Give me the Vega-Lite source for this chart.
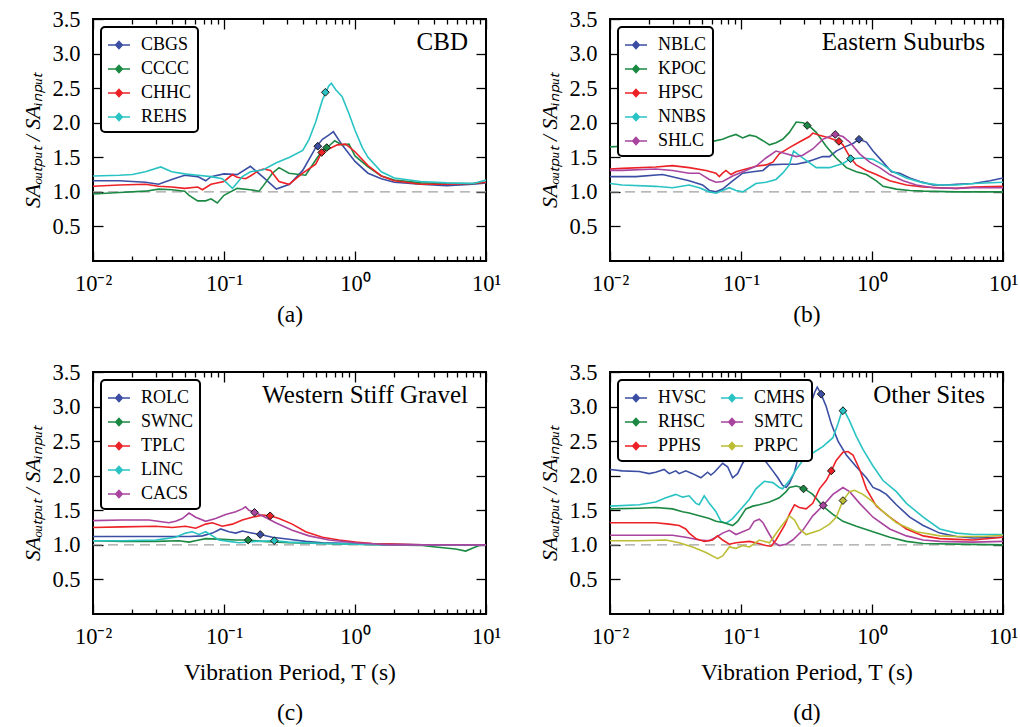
{
"$schema":"https://vega.github.io/schema/vega-lite/v6.json",
"background":"white",
"padding":{"left":21,"top":7,"right":5,"bottom":5},
"config":{
 "font":"Liberation Serif",
 "view":{"stroke":"black","strokeWidth":2},
 "axis":{"domain":false,"grid":false,"tickColor":"black","tickWidth":1.3,"labelFont":"Liberation Serif","labelFontSize":22.5,"labelColor":"black","titleFont":"Liberation Serif","titleFontSize":23.5,"titleFontWeight":"normal","titleColor":"black","labelFlush":false,"labelOverlap":false,"labelBound":false},
 "title":{"font":"Liberation Serif","fontSize":25,"fontWeight":"normal","color":"black","anchor":"end","frame":"group","offset":-47,"dx":-18},
 "legend":{"orient":"top-left","offset":8,"padding":6,"strokeColor":"black","strokeWidth":2,"fillColor":"white","cornerRadius":4,"labelFont":"Liberation Serif","labelFontSize":18,"labelColor":"black","labelOffset":10,"rowPadding":3,"columnPadding":10,"symbolType":"M-1,0H1M0,-0.32L0.3,0L0,0.32L-0.3,0Z","symbolSize":484,"symbolStrokeWidth":1.6,"title":null}
},
"datasets":{
"a":[
{"s":"CBGS","T":0.01,"v":1.16},{"s":"CBGS","T":0.0159,"v":1.16},{"s":"CBGS","T":0.0251,"v":1.14},{"s":"CBGS","T":0.0317,"v":1.11},{"s":"CBGS","T":0.0399,"v":1.18},{"s":"CBGS","T":0.0501,"v":1.24},{"s":"CBGS","T":0.063,"v":1.22},{"s":"CBGS","T":0.0725,"v":1.16},{"s":"CBGS","T":0.0796,"v":1.22},{"s":"CBGS","T":0.1,"v":1.26},{"s":"CBGS","T":0.126,"v":1.25},{"s":"CBGS","T":0.159,"v":1.37},{"s":"CBGS","T":0.2,"v":1.21},{"s":"CBGS","T":0.251,"v":1.04},{"s":"CBGS","T":0.317,"v":1.11},{"s":"CBGS","T":0.399,"v":1.31},{"s":"CBGS","T":0.501,"v":1.64},{"s":"CBGS","T":0.564,"v":1.76},{"s":"CBGS","T":0.63,"v":1.82},{"s":"CBGS","T":0.684,"v":1.87},{"s":"CBGS","T":0.796,"v":1.68},{"s":"CBGS","T":1.0,"v":1.44},{"s":"CBGS","T":1.257,"v":1.27},{"s":"CBGS","T":1.589,"v":1.19},{"s":"CBGS","T":1.995,"v":1.14},{"s":"CBGS","T":3.17,"v":1.11},{"s":"CBGS","T":5.01,"v":1.09},{"s":"CBGS","T":7.96,"v":1.11},{"s":"CBGS","T":10,"v":1.13},
{"s":"CCCC","T":0.01,"v":0.97},{"s":"CCCC","T":0.0159,"v":0.99},{"s":"CCCC","T":0.0251,"v":1.01},{"s":"CCCC","T":0.0317,"v":1.04},{"s":"CCCC","T":0.0399,"v":1.03},{"s":"CCCC","T":0.0501,"v":1.01},{"s":"CCCC","T":0.0541,"v":0.95},{"s":"CCCC","T":0.063,"v":0.87},{"s":"CCCC","T":0.0725,"v":0.87},{"s":"CCCC","T":0.0796,"v":0.9},{"s":"CCCC","T":0.0889,"v":0.84},{"s":"CCCC","T":0.1,"v":0.95},{"s":"CCCC","T":0.126,"v":1.05},{"s":"CCCC","T":0.159,"v":1.03},{"s":"CCCC","T":0.185,"v":1.01},{"s":"CCCC","T":0.2,"v":1.09},{"s":"CCCC","T":0.234,"v":1.27},{"s":"CCCC","T":0.263,"v":1.35},{"s":"CCCC","T":0.313,"v":1.27},{"s":"CCCC","T":0.374,"v":1.25},{"s":"CCCC","T":0.42,"v":1.24},{"s":"CCCC","T":0.501,"v":1.46},{"s":"CCCC","T":0.564,"v":1.6},{"s":"CCCC","T":0.63,"v":1.66},{"s":"CCCC","T":0.7,"v":1.74},{"s":"CCCC","T":0.796,"v":1.68},{"s":"CCCC","T":0.9,"v":1.69},{"s":"CCCC","T":1.0,"v":1.52},{"s":"CCCC","T":1.257,"v":1.36},{"s":"CCCC","T":1.589,"v":1.23},{"s":"CCCC","T":1.995,"v":1.17},{"s":"CCCC","T":3.17,"v":1.13},{"s":"CCCC","T":5.01,"v":1.12},{"s":"CCCC","T":7.96,"v":1.12},{"s":"CCCC","T":10,"v":1.14},
{"s":"CHHC","T":0.01,"v":1.08},{"s":"CHHC","T":0.0159,"v":1.1},{"s":"CHHC","T":0.0251,"v":1.11},{"s":"CHHC","T":0.0317,"v":1.08},{"s":"CHHC","T":0.0399,"v":1.07},{"s":"CHHC","T":0.0501,"v":1.05},{"s":"CHHC","T":0.063,"v":1.07},{"s":"CHHC","T":0.0684,"v":1.03},{"s":"CHHC","T":0.0796,"v":1.11},{"s":"CHHC","T":0.1,"v":1.15},{"s":"CHHC","T":0.116,"v":1.25},{"s":"CHHC","T":0.126,"v":1.21},{"s":"CHHC","T":0.146,"v":1.19},{"s":"CHHC","T":0.159,"v":1.23},{"s":"CHHC","T":0.185,"v":1.31},{"s":"CHHC","T":0.2,"v":1.33},{"s":"CHHC","T":0.227,"v":1.31},{"s":"CHHC","T":0.263,"v":1.15},{"s":"CHHC","T":0.313,"v":1.11},{"s":"CHHC","T":0.399,"v":1.27},{"s":"CHHC","T":0.501,"v":1.4},{"s":"CHHC","T":0.557,"v":1.57},{"s":"CHHC","T":0.63,"v":1.62},{"s":"CHHC","T":0.733,"v":1.68},{"s":"CHHC","T":0.849,"v":1.69},{"s":"CHHC","T":1.0,"v":1.58},{"s":"CHHC","T":1.257,"v":1.38},{"s":"CHHC","T":1.589,"v":1.23},{"s":"CHHC","T":1.995,"v":1.16},{"s":"CHHC","T":3.17,"v":1.11},{"s":"CHHC","T":5.01,"v":1.11},{"s":"CHHC","T":7.96,"v":1.12},{"s":"CHHC","T":10,"v":1.14},
{"s":"REHS","T":0.01,"v":1.23},{"s":"REHS","T":0.0159,"v":1.24},{"s":"REHS","T":0.02,"v":1.25},{"s":"REHS","T":0.0251,"v":1.29},{"s":"REHS","T":0.0329,"v":1.36},{"s":"REHS","T":0.0399,"v":1.29},{"s":"REHS","T":0.0501,"v":1.26},{"s":"REHS","T":0.063,"v":1.24},{"s":"REHS","T":0.0796,"v":1.22},{"s":"REHS","T":0.0971,"v":1.19},{"s":"REHS","T":0.116,"v":1.05},{"s":"REHS","T":0.138,"v":1.22},{"s":"REHS","T":0.159,"v":1.29},{"s":"REHS","T":0.2,"v":1.32},{"s":"REHS","T":0.251,"v":1.42},{"s":"REHS","T":0.317,"v":1.5},{"s":"REHS","T":0.399,"v":1.6},{"s":"REHS","T":0.446,"v":1.76},{"s":"REHS","T":0.501,"v":2.01},{"s":"REHS","T":0.564,"v":2.33},{"s":"REHS","T":0.63,"v":2.53},{"s":"REHS","T":0.66,"v":2.57},{"s":"REHS","T":0.711,"v":2.48},{"s":"REHS","T":0.796,"v":2.38},{"s":"REHS","T":0.9,"v":2.13},{"s":"REHS","T":1.0,"v":1.89},{"s":"REHS","T":1.138,"v":1.64},{"s":"REHS","T":1.257,"v":1.5},{"s":"REHS","T":1.589,"v":1.29},{"s":"REHS","T":1.995,"v":1.2},{"s":"REHS","T":3.17,"v":1.15},{"s":"REHS","T":5.01,"v":1.13},{"s":"REHS","T":7.96,"v":1.12},{"s":"REHS","T":10,"v":1.17}
],
"am":[{"s":"CBGS","T":0.52,"v":1.66},{"s":"CCCC","T":0.608,"v":1.64},{"s":"CHHC","T":0.557,"v":1.57},{"s":"REHS","T":0.594,"v":2.44}],
"b":[
{"s":"NBLC","T":0.01,"v":1.22},{"s":"NBLC","T":0.0158,"v":1.22},{"s":"NBLC","T":0.0252,"v":1.25},{"s":"NBLC","T":0.0402,"v":1.16},{"s":"NBLC","T":0.0509,"v":1.1},{"s":"NBLC","T":0.0573,"v":1.02},{"s":"NBLC","T":0.0644,"v":1.0},{"s":"NBLC","T":0.0724,"v":1.04},{"s":"NBLC","T":0.0863,"v":1.16},{"s":"NBLC","T":0.103,"v":1.27},{"s":"NBLC","T":0.123,"v":1.29},{"s":"NBLC","T":0.147,"v":1.31},{"s":"NBLC","T":0.165,"v":1.39},{"s":"NBLC","T":0.208,"v":1.4},{"s":"NBLC","T":0.264,"v":1.4},{"s":"NBLC","T":0.314,"v":1.43},{"s":"NBLC","T":0.353,"v":1.46},{"s":"NBLC","T":0.421,"v":1.51},{"s":"NBLC","T":0.474,"v":1.51},{"s":"NBLC","T":0.533,"v":1.59},{"s":"NBLC","T":0.6,"v":1.64},{"s":"NBLC","T":0.716,"v":1.7},{"s":"NBLC","T":0.796,"v":1.76},{"s":"NBLC","T":0.906,"v":1.72},{"s":"NBLC","T":1.018,"v":1.59},{"s":"NBLC","T":1.214,"v":1.43},{"s":"NBLC","T":1.406,"v":1.29},{"s":"NBLC","T":1.629,"v":1.27},{"s":"NBLC","T":1.941,"v":1.2},{"s":"NBLC","T":2.32,"v":1.15},{"s":"NBLC","T":2.93,"v":1.1},{"s":"NBLC","T":3.7,"v":1.1},{"s":"NBLC","T":4.42,"v":1.11},{"s":"NBLC","T":5.93,"v":1.12},{"s":"NBLC","T":7.96,"v":1.16},{"s":"NBLC","T":10,"v":1.2},
{"s":"KPOC","T":0.01,"v":1.65},{"s":"KPOC","T":0.0124,"v":1.66},{"s":"KPOC","T":0.0199,"v":1.68},{"s":"KPOC","T":0.0252,"v":1.7},{"s":"KPOC","T":0.0318,"v":1.73},{"s":"KPOC","T":0.0402,"v":1.72},{"s":"KPOC","T":0.0509,"v":1.75},{"s":"KPOC","T":0.0607,"v":1.73},{"s":"KPOC","T":0.0724,"v":1.76},{"s":"KPOC","T":0.0815,"v":1.8},{"s":"KPOC","T":0.0916,"v":1.83},{"s":"KPOC","T":0.103,"v":1.78},{"s":"KPOC","T":0.116,"v":1.82},{"s":"KPOC","T":0.13,"v":1.8},{"s":"KPOC","T":0.147,"v":1.74},{"s":"KPOC","T":0.165,"v":1.68},{"s":"KPOC","T":0.185,"v":1.71},{"s":"KPOC","T":0.208,"v":1.76},{"s":"KPOC","T":0.234,"v":1.86},{"s":"KPOC","T":0.264,"v":2.01},{"s":"KPOC","T":0.296,"v":2.0},{"s":"KPOC","T":0.324,"v":1.97},{"s":"KPOC","T":0.375,"v":1.86},{"s":"KPOC","T":0.447,"v":1.66},{"s":"KPOC","T":0.533,"v":1.49},{"s":"KPOC","T":0.637,"v":1.35},{"s":"KPOC","T":0.759,"v":1.29},{"s":"KPOC","T":0.906,"v":1.25},{"s":"KPOC","T":1.08,"v":1.16},{"s":"KPOC","T":1.214,"v":1.08},{"s":"KPOC","T":1.535,"v":1.04},{"s":"KPOC","T":1.941,"v":1.02},{"s":"KPOC","T":2.46,"v":1.01},{"s":"KPOC","T":4.42,"v":1.0},{"s":"KPOC","T":10,"v":1.0},
{"s":"HPSC","T":0.01,"v":1.33},{"s":"HPSC","T":0.0124,"v":1.34},{"s":"HPSC","T":0.0223,"v":1.36},{"s":"HPSC","T":0.03,"v":1.38},{"s":"HPSC","T":0.0402,"v":1.35},{"s":"HPSC","T":0.054,"v":1.31},{"s":"HPSC","T":0.0644,"v":1.27},{"s":"HPSC","T":0.0683,"v":1.22},{"s":"HPSC","T":0.0724,"v":1.27},{"s":"HPSC","T":0.0768,"v":1.31},{"s":"HPSC","T":0.0838,"v":1.25},{"s":"HPSC","T":0.0916,"v":1.29},{"s":"HPSC","T":0.109,"v":1.33},{"s":"HPSC","T":0.13,"v":1.37},{"s":"HPSC","T":0.155,"v":1.39},{"s":"HPSC","T":0.175,"v":1.43},{"s":"HPSC","T":0.196,"v":1.55},{"s":"HPSC","T":0.234,"v":1.64},{"s":"HPSC","T":0.279,"v":1.72},{"s":"HPSC","T":0.333,"v":1.8},{"s":"HPSC","T":0.353,"v":1.85},{"s":"HPSC","T":0.397,"v":1.82},{"s":"HPSC","T":0.474,"v":1.78},{"s":"HPSC","T":0.559,"v":1.73},{"s":"HPSC","T":0.6,"v":1.68},{"s":"HPSC","T":0.675,"v":1.51},{"s":"HPSC","T":0.759,"v":1.39},{"s":"HPSC","T":0.906,"v":1.31},{"s":"HPSC","T":1.08,"v":1.25},{"s":"HPSC","T":1.365,"v":1.16},{"s":"HPSC","T":1.831,"v":1.1},{"s":"HPSC","T":2.46,"v":1.07},{"s":"HPSC","T":3.29,"v":1.06},{"s":"HPSC","T":4.42,"v":1.05},{"s":"HPSC","T":5.93,"v":1.07},{"s":"HPSC","T":10,"v":1.08},
{"s":"NNBS","T":0.01,"v":1.12},{"s":"NNBS","T":0.0124,"v":1.1},{"s":"NNBS","T":0.0223,"v":1.08},{"s":"NNBS","T":0.03,"v":1.06},{"s":"NNBS","T":0.0402,"v":1.1},{"s":"NNBS","T":0.048,"v":1.06},{"s":"NNBS","T":0.0573,"v":1.0},{"s":"NNBS","T":0.0644,"v":0.98},{"s":"NNBS","T":0.0724,"v":1.02},{"s":"NNBS","T":0.0815,"v":1.06},{"s":"NNBS","T":0.0916,"v":1.02},{"s":"NNBS","T":0.103,"v":1.0},{"s":"NNBS","T":0.116,"v":1.06},{"s":"NNBS","T":0.13,"v":1.12},{"s":"NNBS","T":0.155,"v":1.14},{"s":"NNBS","T":0.185,"v":1.18},{"s":"NNBS","T":0.208,"v":1.27},{"s":"NNBS","T":0.234,"v":1.39},{"s":"NNBS","T":0.252,"v":1.59},{"s":"NNBS","T":0.296,"v":1.49},{"s":"NNBS","T":0.375,"v":1.35},{"s":"NNBS","T":0.474,"v":1.35},{"s":"NNBS","T":0.6,"v":1.41},{"s":"NNBS","T":0.687,"v":1.48},{"s":"NNBS","T":0.853,"v":1.49},{"s":"NNBS","T":1.018,"v":1.47},{"s":"NNBS","T":1.214,"v":1.39},{"s":"NNBS","T":1.448,"v":1.29},{"s":"NNBS","T":1.831,"v":1.2},{"s":"NNBS","T":2.46,"v":1.13},{"s":"NNBS","T":3.29,"v":1.1},{"s":"NNBS","T":4.42,"v":1.1},{"s":"NNBS","T":5.93,"v":1.12},{"s":"NNBS","T":10,"v":1.14},
{"s":"SHLC","T":0.01,"v":1.31},{"s":"SHLC","T":0.0124,"v":1.31},{"s":"SHLC","T":0.0223,"v":1.33},{"s":"SHLC","T":0.03,"v":1.31},{"s":"SHLC","T":0.0402,"v":1.27},{"s":"SHLC","T":0.048,"v":1.27},{"s":"SHLC","T":0.0573,"v":1.18},{"s":"SHLC","T":0.0644,"v":1.14},{"s":"SHLC","T":0.0724,"v":1.15},{"s":"SHLC","T":0.0863,"v":1.23},{"s":"SHLC","T":0.109,"v":1.31},{"s":"SHLC","T":0.13,"v":1.37},{"s":"SHLC","T":0.155,"v":1.49},{"s":"SHLC","T":0.185,"v":1.59},{"s":"SHLC","T":0.221,"v":1.55},{"s":"SHLC","T":0.264,"v":1.51},{"s":"SHLC","T":0.296,"v":1.53},{"s":"SHLC","T":0.353,"v":1.62},{"s":"SHLC","T":0.421,"v":1.76},{"s":"SHLC","T":0.474,"v":1.8},{"s":"SHLC","T":0.524,"v":1.83},{"s":"SHLC","T":0.6,"v":1.8},{"s":"SHLC","T":0.675,"v":1.72},{"s":"SHLC","T":0.805,"v":1.55},{"s":"SHLC","T":0.96,"v":1.43},{"s":"SHLC","T":1.145,"v":1.35},{"s":"SHLC","T":1.365,"v":1.25},{"s":"SHLC","T":1.727,"v":1.16},{"s":"SHLC","T":2.18,"v":1.1},{"s":"SHLC","T":2.93,"v":1.06},{"s":"SHLC","T":4.42,"v":1.05},{"s":"SHLC","T":5.93,"v":1.06},{"s":"SHLC","T":10,"v":1.06}
],
"bm":[{"s":"NBLC","T":0.796,"v":1.76},{"s":"KPOC","T":0.32,"v":1.96},{"s":"HPSC","T":0.559,"v":1.73},{"s":"NNBS","T":0.687,"v":1.48},{"s":"SHLC","T":0.524,"v":1.83}],
"c":[
{"s":"ROLC","T":0.01,"v":1.12},{"s":"ROLC","T":0.0301,"v":1.12},{"s":"ROLC","T":0.0403,"v":1.12},{"s":"ROLC","T":0.0541,"v":1.12},{"s":"ROLC","T":0.0684,"v":1.13},{"s":"ROLC","T":0.0815,"v":1.17},{"s":"ROLC","T":0.0943,"v":1.23},{"s":"ROLC","T":0.109,"v":1.19},{"s":"ROLC","T":0.123,"v":1.17},{"s":"ROLC","T":0.138,"v":1.2},{"s":"ROLC","T":0.155,"v":1.18},{"s":"ROLC","T":0.175,"v":1.16},{"s":"ROLC","T":0.189,"v":1.15},{"s":"ROLC","T":0.234,"v":1.11},{"s":"ROLC","T":0.313,"v":1.08},{"s":"ROLC","T":0.42,"v":1.05},{"s":"ROLC","T":0.564,"v":1.03},{"s":"ROLC","T":1.01,"v":1.02},{"s":"ROLC","T":1.82,"v":1.01},{"s":"ROLC","T":3.27,"v":1.0},{"s":"ROLC","T":10,"v":1.0},
{"s":"SWNC","T":0.01,"v":1.06},{"s":"SWNC","T":0.0167,"v":1.05},{"s":"SWNC","T":0.0301,"v":1.05},{"s":"SWNC","T":0.0453,"v":1.06},{"s":"SWNC","T":0.0541,"v":1.04},{"s":"SWNC","T":0.0644,"v":1.07},{"s":"SWNC","T":0.0725,"v":1.09},{"s":"SWNC","T":0.0971,"v":1.08},{"s":"SWNC","T":0.123,"v":1.07},{"s":"SWNC","T":0.153,"v":1.07},{"s":"SWNC","T":0.196,"v":1.05},{"s":"SWNC","T":0.313,"v":1.03},{"s":"SWNC","T":0.564,"v":1.02},{"s":"SWNC","T":1.01,"v":1.01},{"s":"SWNC","T":1.82,"v":1.0},{"s":"SWNC","T":3.27,"v":0.99},{"s":"SWNC","T":4.13,"v":0.97},{"s":"SWNC","T":5.86,"v":0.94},{"s":"SWNC","T":7.0,"v":0.91},{"s":"SWNC","T":7.87,"v":0.95},{"s":"SWNC","T":8.85,"v":0.99},{"s":"SWNC","T":10,"v":1.0},
{"s":"TPLC","T":0.01,"v":1.25},{"s":"TPLC","T":0.0167,"v":1.26},{"s":"TPLC","T":0.0301,"v":1.27},{"s":"TPLC","T":0.0403,"v":1.25},{"s":"TPLC","T":0.0509,"v":1.27},{"s":"TPLC","T":0.0608,"v":1.24},{"s":"TPLC","T":0.0725,"v":1.3},{"s":"TPLC","T":0.0815,"v":1.32},{"s":"TPLC","T":0.0971,"v":1.27},{"s":"TPLC","T":0.116,"v":1.3},{"s":"TPLC","T":0.138,"v":1.36},{"s":"TPLC","T":0.164,"v":1.4},{"s":"TPLC","T":0.196,"v":1.43},{"s":"TPLC","T":0.225,"v":1.42},{"s":"TPLC","T":0.263,"v":1.38},{"s":"TPLC","T":0.332,"v":1.3},{"s":"TPLC","T":0.42,"v":1.19},{"s":"TPLC","T":0.564,"v":1.11},{"s":"TPLC","T":0.755,"v":1.07},{"s":"TPLC","T":1.01,"v":1.04},{"s":"TPLC","T":1.36,"v":1.02},{"s":"TPLC","T":1.82,"v":1.01},{"s":"TPLC","T":3.27,"v":1.0},{"s":"TPLC","T":10,"v":1.0},
{"s":"LINC","T":0.01,"v":1.06},{"s":"LINC","T":0.0167,"v":1.06},{"s":"LINC","T":0.0301,"v":1.07},{"s":"LINC","T":0.0359,"v":1.09},{"s":"LINC","T":0.0427,"v":1.11},{"s":"LINC","T":0.0509,"v":1.17},{"s":"LINC","T":0.0573,"v":1.19},{"s":"LINC","T":0.0644,"v":1.15},{"s":"LINC","T":0.0725,"v":1.19},{"s":"LINC","T":0.0815,"v":1.13},{"s":"LINC","T":0.0916,"v":1.07},{"s":"LINC","T":0.109,"v":1.05},{"s":"LINC","T":0.13,"v":1.03},{"s":"LINC","T":0.175,"v":1.05},{"s":"LINC","T":0.242,"v":1.06},{"s":"LINC","T":0.313,"v":1.04},{"s":"LINC","T":0.564,"v":1.02},{"s":"LINC","T":1.01,"v":1.01},{"s":"LINC","T":1.82,"v":1.0},{"s":"LINC","T":10,"v":1.0},
{"s":"CACS","T":0.01,"v":1.35},{"s":"CACS","T":0.0167,"v":1.36},{"s":"CACS","T":0.0267,"v":1.36},{"s":"CACS","T":0.038,"v":1.32},{"s":"CACS","T":0.0427,"v":1.34},{"s":"CACS","T":0.0481,"v":1.38},{"s":"CACS","T":0.0541,"v":1.46},{"s":"CACS","T":0.0608,"v":1.4},{"s":"CACS","T":0.0725,"v":1.34},{"s":"CACS","T":0.0863,"v":1.38},{"s":"CACS","T":0.103,"v":1.44},{"s":"CACS","T":0.123,"v":1.48},{"s":"CACS","T":0.138,"v":1.52},{"s":"CACS","T":0.146,"v":1.55},{"s":"CACS","T":0.155,"v":1.5},{"s":"CACS","T":0.171,"v":1.47},{"s":"CACS","T":0.196,"v":1.42},{"s":"CACS","T":0.248,"v":1.32},{"s":"CACS","T":0.332,"v":1.21},{"s":"CACS","T":0.446,"v":1.13},{"s":"CACS","T":0.634,"v":1.07},{"s":"CACS","T":1.01,"v":1.03},{"s":"CACS","T":1.82,"v":1.0},{"s":"CACS","T":10,"v":1.0}
],
"cm":[{"s":"ROLC","T":0.189,"v":1.15},{"s":"SWNC","T":0.153,"v":1.07},{"s":"TPLC","T":0.225,"v":1.42},{"s":"LINC","T":0.242,"v":1.06},{"s":"CACS","T":0.171,"v":1.47}],
"d":[
{"s":"HVSC","T":0.01,"v":2.09},{"s":"HVSC","T":0.0124,"v":2.07},{"s":"HVSC","T":0.0167,"v":2.06},{"s":"HVSC","T":0.0199,"v":2.03},{"s":"HVSC","T":0.0223,"v":2.05},{"s":"HVSC","T":0.0259,"v":2.09},{"s":"HVSC","T":0.0283,"v":2.03},{"s":"HVSC","T":0.0318,"v":2.07},{"s":"HVSC","T":0.0337,"v":2.03},{"s":"HVSC","T":0.0379,"v":2.07},{"s":"HVSC","T":0.0427,"v":2.03},{"s":"HVSC","T":0.0494,"v":1.97},{"s":"HVSC","T":0.0556,"v":2.05},{"s":"HVSC","T":0.0589,"v":2.01},{"s":"HVSC","T":0.0625,"v":2.05},{"s":"HVSC","T":0.0724,"v":2.18},{"s":"HVSC","T":0.079,"v":2.13},{"s":"HVSC","T":0.0863,"v":1.97},{"s":"HVSC","T":0.0942,"v":2.03},{"s":"HVSC","T":0.103,"v":2.18},{"s":"HVSC","T":0.112,"v":2.28},{"s":"HVSC","T":0.123,"v":2.31},{"s":"HVSC","T":0.138,"v":2.28},{"s":"HVSC","T":0.155,"v":2.2},{"s":"HVSC","T":0.175,"v":2.07},{"s":"HVSC","T":0.191,"v":1.97},{"s":"HVSC","T":0.208,"v":1.86},{"s":"HVSC","T":0.221,"v":1.83},{"s":"HVSC","T":0.234,"v":1.89},{"s":"HVSC","T":0.256,"v":2.05},{"s":"HVSC","T":0.279,"v":2.34},{"s":"HVSC","T":0.305,"v":2.67},{"s":"HVSC","T":0.333,"v":2.98},{"s":"HVSC","T":0.364,"v":3.2},{"s":"HVSC","T":0.382,"v":3.28},{"s":"HVSC","T":0.409,"v":3.18},{"s":"HVSC","T":0.447,"v":3.0},{"s":"HVSC","T":0.489,"v":2.75},{"s":"HVSC","T":0.55,"v":2.5},{"s":"HVSC","T":0.637,"v":2.3},{"s":"HVSC","T":0.759,"v":2.13},{"s":"HVSC","T":0.906,"v":1.97},{"s":"HVSC","T":1.018,"v":1.83},{"s":"HVSC","T":1.145,"v":1.79},{"s":"HVSC","T":1.288,"v":1.73},{"s":"HVSC","T":1.535,"v":1.58},{"s":"HVSC","T":1.941,"v":1.4},{"s":"HVSC","T":2.46,"v":1.28},{"s":"HVSC","T":3.29,"v":1.17},{"s":"HVSC","T":4.42,"v":1.12},{"s":"HVSC","T":5.93,"v":1.1},{"s":"HVSC","T":10,"v":1.11},
{"s":"CMHS","T":0.01,"v":1.56},{"s":"CMHS","T":0.0167,"v":1.58},{"s":"CMHS","T":0.0223,"v":1.62},{"s":"CMHS","T":0.0267,"v":1.68},{"s":"CMHS","T":0.0318,"v":1.73},{"s":"CMHS","T":0.0358,"v":1.69},{"s":"CMHS","T":0.0402,"v":1.71},{"s":"CMHS","T":0.0453,"v":1.6},{"s":"CMHS","T":0.048,"v":1.58},{"s":"CMHS","T":0.0524,"v":1.71},{"s":"CMHS","T":0.0573,"v":1.6},{"s":"CMHS","T":0.0644,"v":1.48},{"s":"CMHS","T":0.0703,"v":1.34},{"s":"CMHS","T":0.0768,"v":1.31},{"s":"CMHS","T":0.0863,"v":1.38},{"s":"CMHS","T":0.1,"v":1.52},{"s":"CMHS","T":0.116,"v":1.66},{"s":"CMHS","T":0.13,"v":1.81},{"s":"CMHS","T":0.151,"v":1.92},{"s":"CMHS","T":0.175,"v":1.9},{"s":"CMHS","T":0.196,"v":1.83},{"s":"CMHS","T":0.208,"v":1.81},{"s":"CMHS","T":0.234,"v":1.93},{"s":"CMHS","T":0.264,"v":2.09},{"s":"CMHS","T":0.296,"v":2.22},{"s":"CMHS","T":0.333,"v":2.3},{"s":"CMHS","T":0.421,"v":2.42},{"s":"CMHS","T":0.503,"v":2.55},{"s":"CMHS","T":0.55,"v":2.75},{"s":"CMHS","T":0.6,"v":2.98},{"s":"CMHS","T":0.675,"v":2.79},{"s":"CMHS","T":0.759,"v":2.57},{"s":"CMHS","T":0.853,"v":2.38},{"s":"CMHS","T":1.018,"v":2.14},{"s":"CMHS","T":1.214,"v":1.93},{"s":"CMHS","T":1.535,"v":1.77},{"s":"CMHS","T":1.831,"v":1.6},{"s":"CMHS","T":2.46,"v":1.4},{"s":"CMHS","T":3.29,"v":1.23},{"s":"CMHS","T":4.42,"v":1.17},{"s":"CMHS","T":5.93,"v":1.15},{"s":"CMHS","T":10,"v":1.15},
{"s":"RHSC","T":0.01,"v":1.52},{"s":"RHSC","T":0.0167,"v":1.53},{"s":"RHSC","T":0.0223,"v":1.54},{"s":"RHSC","T":0.03,"v":1.52},{"s":"RHSC","T":0.0358,"v":1.48},{"s":"RHSC","T":0.0402,"v":1.46},{"s":"RHSC","T":0.048,"v":1.42},{"s":"RHSC","T":0.0573,"v":1.38},{"s":"RHSC","T":0.0644,"v":1.34},{"s":"RHSC","T":0.0745,"v":1.32},{"s":"RHSC","T":0.0863,"v":1.28},{"s":"RHSC","T":0.0942,"v":1.34},{"s":"RHSC","T":0.109,"v":1.52},{"s":"RHSC","T":0.123,"v":1.56},{"s":"RHSC","T":0.138,"v":1.58},{"s":"RHSC","T":0.165,"v":1.62},{"s":"RHSC","T":0.196,"v":1.68},{"s":"RHSC","T":0.221,"v":1.77},{"s":"RHSC","T":0.234,"v":1.83},{"s":"RHSC","T":0.264,"v":1.85},{"s":"RHSC","T":0.3,"v":1.82},{"s":"RHSC","T":0.353,"v":1.73},{"s":"RHSC","T":0.421,"v":1.56},{"s":"RHSC","T":0.503,"v":1.44},{"s":"RHSC","T":0.6,"v":1.34},{"s":"RHSC","T":0.759,"v":1.27},{"s":"RHSC","T":1.018,"v":1.19},{"s":"RHSC","T":1.365,"v":1.11},{"s":"RHSC","T":1.831,"v":1.05},{"s":"RHSC","T":2.46,"v":1.02},{"s":"RHSC","T":4.42,"v":1.01},{"s":"RHSC","T":10,"v":1.0},
{"s":"SMTC","T":0.01,"v":1.14},{"s":"SMTC","T":0.0167,"v":1.14},{"s":"SMTC","T":0.03,"v":1.14},{"s":"SMTC","T":0.0379,"v":1.11},{"s":"SMTC","T":0.048,"v":1.07},{"s":"SMTC","T":0.0573,"v":1.06},{"s":"SMTC","T":0.0644,"v":1.11},{"s":"SMTC","T":0.0724,"v":1.17},{"s":"SMTC","T":0.0815,"v":1.21},{"s":"SMTC","T":0.0916,"v":1.15},{"s":"SMTC","T":0.116,"v":1.23},{"s":"SMTC","T":0.126,"v":1.34},{"s":"SMTC","T":0.138,"v":1.37},{"s":"SMTC","T":0.147,"v":1.32},{"s":"SMTC","T":0.165,"v":1.15},{"s":"SMTC","T":0.18,"v":1.03},{"s":"SMTC","T":0.196,"v":0.99},{"s":"SMTC","T":0.221,"v":1.01},{"s":"SMTC","T":0.248,"v":1.07},{"s":"SMTC","T":0.296,"v":1.21},{"s":"SMTC","T":0.353,"v":1.42},{"s":"SMTC","T":0.424,"v":1.57},{"s":"SMTC","T":0.503,"v":1.73},{"s":"SMTC","T":0.6,"v":1.83},{"s":"SMTC","T":0.675,"v":1.77},{"s":"SMTC","T":0.805,"v":1.6},{"s":"SMTC","T":1.018,"v":1.4},{"s":"SMTC","T":1.365,"v":1.23},{"s":"SMTC","T":1.831,"v":1.13},{"s":"SMTC","T":2.46,"v":1.07},{"s":"SMTC","T":3.29,"v":1.05},{"s":"SMTC","T":5.93,"v":1.04},{"s":"SMTC","T":10,"v":1.05},
{"s":"PPHS","T":0.01,"v":1.32},{"s":"PPHS","T":0.0167,"v":1.32},{"s":"PPHS","T":0.0223,"v":1.32},{"s":"PPHS","T":0.0283,"v":1.3},{"s":"PPHS","T":0.0337,"v":1.28},{"s":"PPHS","T":0.0379,"v":1.23},{"s":"PPHS","T":0.0402,"v":1.17},{"s":"PPHS","T":0.0453,"v":1.09},{"s":"PPHS","T":0.0524,"v":1.05},{"s":"PPHS","T":0.0607,"v":1.07},{"s":"PPHS","T":0.0662,"v":1.13},{"s":"PPHS","T":0.0724,"v":1.07},{"s":"PPHS","T":0.0815,"v":1.01},{"s":"PPHS","T":0.0916,"v":1.03},{"s":"PPHS","T":0.116,"v":1.05},{"s":"PPHS","T":0.13,"v":1.03},{"s":"PPHS","T":0.155,"v":0.99},{"s":"PPHS","T":0.17,"v":0.98},{"s":"PPHS","T":0.185,"v":1.07},{"s":"PPHS","T":0.215,"v":1.28},{"s":"PPHS","T":0.234,"v":1.44},{"s":"PPHS","T":0.256,"v":1.58},{"s":"PPHS","T":0.279,"v":1.54},{"s":"PPHS","T":0.314,"v":1.52},{"s":"PPHS","T":0.353,"v":1.6},{"s":"PPHS","T":0.397,"v":1.81},{"s":"PPHS","T":0.447,"v":1.93},{"s":"PPHS","T":0.489,"v":2.07},{"s":"PPHS","T":0.533,"v":2.22},{"s":"PPHS","T":0.6,"v":2.34},{"s":"PPHS","T":0.655,"v":2.35},{"s":"PPHS","T":0.716,"v":2.3},{"s":"PPHS","T":0.805,"v":2.09},{"s":"PPHS","T":0.906,"v":1.81},{"s":"PPHS","T":1.08,"v":1.56},{"s":"PPHS","T":1.365,"v":1.4},{"s":"PPHS","T":1.831,"v":1.23},{"s":"PPHS","T":2.46,"v":1.13},{"s":"PPHS","T":3.29,"v":1.09},{"s":"PPHS","T":4.42,"v":1.08},{"s":"PPHS","T":5.93,"v":1.07},{"s":"PPHS","T":10,"v":1.11},
{"s":"PRPC","T":0.01,"v":1.06},{"s":"PRPC","T":0.0167,"v":1.06},{"s":"PRPC","T":0.0267,"v":1.07},{"s":"PRPC","T":0.0337,"v":1.03},{"s":"PRPC","T":0.0427,"v":0.97},{"s":"PRPC","T":0.054,"v":0.89},{"s":"PRPC","T":0.0662,"v":0.8},{"s":"PRPC","T":0.0724,"v":0.84},{"s":"PRPC","T":0.0815,"v":0.97},{"s":"PRPC","T":0.0916,"v":0.95},{"s":"PRPC","T":0.103,"v":0.99},{"s":"PRPC","T":0.116,"v":0.97},{"s":"PRPC","T":0.138,"v":1.07},{"s":"PRPC","T":0.165,"v":1.03},{"s":"PRPC","T":0.196,"v":1.23},{"s":"PRPC","T":0.234,"v":1.42},{"s":"PRPC","T":0.256,"v":1.36},{"s":"PRPC","T":0.279,"v":1.23},{"s":"PRPC","T":0.314,"v":1.15},{"s":"PRPC","T":0.397,"v":1.21},{"s":"PRPC","T":0.474,"v":1.3},{"s":"PRPC","T":0.533,"v":1.4},{"s":"PRPC","T":0.6,"v":1.64},{"s":"PRPC","T":0.675,"v":1.77},{"s":"PRPC","T":0.737,"v":1.79},{"s":"PRPC","T":0.853,"v":1.73},{"s":"PRPC","T":0.989,"v":1.64},{"s":"PRPC","T":1.214,"v":1.48},{"s":"PRPC","T":1.535,"v":1.32},{"s":"PRPC","T":2.18,"v":1.19},{"s":"PRPC","T":3.29,"v":1.13},{"s":"PRPC","T":4.42,"v":1.12},{"s":"PRPC","T":7.06,"v":1.12},{"s":"PRPC","T":10,"v":1.14}
],
"dm":[{"s":"HVSC","T":0.409,"v":3.18},{"s":"CMHS","T":0.6,"v":2.94},{"s":"RHSC","T":0.3,"v":1.81},{"s":"SMTC","T":0.424,"v":1.57},{"s":"PPHS","T":0.489,"v":2.07},{"s":"PRPC","T":0.6,"v":1.64}]
},
"concat":[
{"name":"pa","width":393,"height":242,"title":{"text":"CBD"},
 "layer":[
  {"data":{"values":[{}]},"mark":{"type":"rule","strokeDash":[10,6],"color":"#a0a0a0","strokeWidth":1.4},"encoding":{"y":{"datum":1,"type":"quantitative","axis":null}}},
  {"data":{"name":"a"},"mark":{"type":"line","strokeWidth":1.6},"encoding":{
   "x":{"field":"T","type":"quantitative","scale":{"type":"log","domain":[0.01,10],"nice":false},"axis":{"orient":"bottom","values":[0.01,0.02,0.03,0.04,0.05,0.06,0.07,0.08,0.09,0.1,0.2,0.3,0.4,0.5,0.6,0.7,0.8,0.9,1,2,3,4,5,6,7,8,9,10],"labelExpr":"datum.value==0.01?'10⁻²':datum.value==0.1?'10⁻¹':datum.value==1?'10⁰':datum.value==10?'10¹':''","tickSize":{"condition":{"test":"datum.value==0.01||datum.value==0.1||datum.value==1||datum.value==10","value":-10},"value":-5},"labelPadding":21,"title":"(a)","titlePadding":3}},
   "y":{"field":"v","type":"quantitative","scale":{"domain":[0.5,3.5],"nice":false},"axis":{"orient":"left","values":[0.5,1,1.5,2,2.5,3,3.5],"format":".1f","tickSize":-10,"labelPadding":23,"title":"SAₒᵤₜₚᵤₜ / SAᵢₙₚᵤₜ","titleFontStyle":"italic","titleFontSize":21.5,"titlePadding":7}},
   "color":{"field":"s","type":"nominal","scale":{"domain":["CBGS","CCCC","CHHC","REHS"],"range":["#3b4ea3","#1b8943","#ec2227","#2ac3c3"]},"legend":{"encode":{"symbols":{"update":{"fill":{"scale":"pa_color","field":"value"}}}}}}}},
  {"data":{"name":"am"},"mark":{"type":"point","shape":"diamond","filled":true,"size":60,"stroke":"#1a1a1a","strokeWidth":1,"opacity":1},"encoding":{
   "x":{"field":"T","type":"quantitative","axis":{"orient":"top","values":[0.01,0.02,0.03,0.04,0.05,0.06,0.07,0.08,0.09,0.1,0.2,0.3,0.4,0.5,0.6,0.7,0.8,0.9,1,2,3,4,5,6,7,8,9,10],"labels":false,"title":null,"tickSize":{"condition":{"test":"datum.value==0.01||datum.value==0.1||datum.value==1||datum.value==10","value":-10},"value":-5}}},
   "y":{"field":"v","type":"quantitative","axis":{"orient":"right","values":[0.5,1,1.5,2,2.5,3,3.5],"labels":false,"title":null,"tickSize":-10}},
   "color":{"field":"s","type":"nominal","legend":null}}}
 ],
 "resolve":{"axis":{"x":"independent","y":"independent"}}},
{"name":"pb","width":393,"height":242,"title":{"text":"Eastern Suburbs"},
 "layer":[
  {"data":{"values":[{}]},"mark":{"type":"rule","strokeDash":[10,6],"color":"#a0a0a0","strokeWidth":1.4},"encoding":{"y":{"datum":1,"type":"quantitative","axis":null}}},
  {"data":{"name":"b"},"mark":{"type":"line","strokeWidth":1.6},"encoding":{
   "x":{"field":"T","type":"quantitative","scale":{"type":"log","domain":[0.01,10],"nice":false},"axis":{"orient":"bottom","values":[0.01,0.02,0.03,0.04,0.05,0.06,0.07,0.08,0.09,0.1,0.2,0.3,0.4,0.5,0.6,0.7,0.8,0.9,1,2,3,4,5,6,7,8,9,10],"labelExpr":"datum.value==0.01?'10⁻²':datum.value==0.1?'10⁻¹':datum.value==1?'10⁰':datum.value==10?'10¹':''","tickSize":{"condition":{"test":"datum.value==0.01||datum.value==0.1||datum.value==1||datum.value==10","value":-10},"value":-5},"labelPadding":21,"title":"(b)","titlePadding":3}},
   "y":{"field":"v","type":"quantitative","scale":{"domain":[0.5,3.5],"nice":false},"axis":{"orient":"left","values":[0.5,1,1.5,2,2.5,3,3.5],"format":".1f","tickSize":-10,"labelPadding":23,"title":"SAₒᵤₜₚᵤₜ / SAᵢₙₚᵤₜ","titleFontStyle":"italic","titleFontSize":21.5,"titlePadding":7}},
   "color":{"field":"s","type":"nominal","scale":{"domain":["NBLC","KPOC","HPSC","NNBS","SHLC"],"range":["#3b4ea3","#1b8943","#ec2227","#2ac3c3","#a9449f"]},"legend":{"encode":{"symbols":{"update":{"fill":{"scale":"pb_color","field":"value"}}}}}}}},
  {"data":{"name":"bm"},"mark":{"type":"point","shape":"diamond","filled":true,"size":60,"stroke":"#1a1a1a","strokeWidth":1,"opacity":1},"encoding":{
   "x":{"field":"T","type":"quantitative","axis":{"orient":"top","values":[0.01,0.02,0.03,0.04,0.05,0.06,0.07,0.08,0.09,0.1,0.2,0.3,0.4,0.5,0.6,0.7,0.8,0.9,1,2,3,4,5,6,7,8,9,10],"labels":false,"title":null,"tickSize":{"condition":{"test":"datum.value==0.01||datum.value==0.1||datum.value==1||datum.value==10","value":-10},"value":-5}}},
   "y":{"field":"v","type":"quantitative","axis":{"orient":"right","values":[0.5,1,1.5,2,2.5,3,3.5],"labels":false,"title":null,"tickSize":-10}},
   "color":{"field":"s","type":"nominal","legend":null}}}
 ],
 "resolve":{"axis":{"x":"independent","y":"independent"}}},
{"name":"pc","width":393,"height":242,"title":{"text":"Western Stiff Gravel"},
 "layer":[
  {"data":{"values":[{}]},"mark":{"type":"rule","strokeDash":[10,6],"color":"#a0a0a0","strokeWidth":1.4},"encoding":{"y":{"datum":1,"type":"quantitative","axis":null}}},
  {"data":{"name":"c"},"mark":{"type":"line","strokeWidth":1.6},"encoding":{
   "x":{"field":"T","type":"quantitative","scale":{"type":"log","domain":[0.01,10],"nice":false},"axis":{"orient":"bottom","values":[0.01,0.02,0.03,0.04,0.05,0.06,0.07,0.08,0.09,0.1,0.2,0.3,0.4,0.5,0.6,0.7,0.8,0.9,1,2,3,4,5,6,7,8,9,10],"labelExpr":"datum.value==0.01?'10⁻²':datum.value==0.1?'10⁻¹':datum.value==1?'10⁰':datum.value==10?'10¹':''","tickSize":{"condition":{"test":"datum.value==0.01||datum.value==0.1||datum.value==1||datum.value==10","value":-10},"value":-5},"labelPadding":21,"title":["Vibration Period, T (s)","(c)"],"titleLineHeight":40,"titlePadding":8}},
   "y":{"field":"v","type":"quantitative","scale":{"domain":[0.5,3.5],"nice":false},"axis":{"orient":"left","values":[0.5,1,1.5,2,2.5,3,3.5],"format":".1f","tickSize":-10,"labelPadding":23,"title":"SAₒᵤₜₚᵤₜ / SAᵢₙₚᵤₜ","titleFontStyle":"italic","titleFontSize":21.5,"titlePadding":7}},
   "color":{"field":"s","type":"nominal","scale":{"domain":["ROLC","SWNC","TPLC","LINC","CACS"],"range":["#3b4ea3","#1b8943","#ec2227","#2ac3c3","#a9449f"]},"legend":{"encode":{"symbols":{"update":{"fill":{"scale":"pc_color","field":"value"}}}}}}}},
  {"data":{"name":"cm"},"mark":{"type":"point","shape":"diamond","filled":true,"size":60,"stroke":"#1a1a1a","strokeWidth":1,"opacity":1},"encoding":{
   "x":{"field":"T","type":"quantitative","axis":{"orient":"top","values":[0.01,0.02,0.03,0.04,0.05,0.06,0.07,0.08,0.09,0.1,0.2,0.3,0.4,0.5,0.6,0.7,0.8,0.9,1,2,3,4,5,6,7,8,9,10],"labels":false,"title":null,"tickSize":{"condition":{"test":"datum.value==0.01||datum.value==0.1||datum.value==1||datum.value==10","value":-10},"value":-5}}},
   "y":{"field":"v","type":"quantitative","axis":{"orient":"right","values":[0.5,1,1.5,2,2.5,3,3.5],"labels":false,"title":null,"tickSize":-10}},
   "color":{"field":"s","type":"nominal","legend":null}}}
 ],
 "resolve":{"axis":{"x":"independent","y":"independent"}}},
{"name":"pd","width":393,"height":242,"title":{"text":"Other Sites"},
 "layer":[
  {"data":{"values":[{}]},"mark":{"type":"rule","strokeDash":[10,6],"color":"#a0a0a0","strokeWidth":1.4},"encoding":{"y":{"datum":1,"type":"quantitative","axis":null}}},
  {"data":{"name":"d"},"mark":{"type":"line","strokeWidth":1.6},"encoding":{
   "x":{"field":"T","type":"quantitative","scale":{"type":"log","domain":[0.01,10],"nice":false},"axis":{"orient":"bottom","values":[0.01,0.02,0.03,0.04,0.05,0.06,0.07,0.08,0.09,0.1,0.2,0.3,0.4,0.5,0.6,0.7,0.8,0.9,1,2,3,4,5,6,7,8,9,10],"labelExpr":"datum.value==0.01?'10⁻²':datum.value==0.1?'10⁻¹':datum.value==1?'10⁰':datum.value==10?'10¹':''","tickSize":{"condition":{"test":"datum.value==0.01||datum.value==0.1||datum.value==1||datum.value==10","value":-10},"value":-5},"labelPadding":21,"title":["Vibration Period, T (s)","(d)"],"titleLineHeight":40,"titlePadding":8}},
   "y":{"field":"v","type":"quantitative","scale":{"domain":[0.5,3.5],"nice":false},"axis":{"orient":"left","values":[0.5,1,1.5,2,2.5,3,3.5],"format":".1f","tickSize":-10,"labelPadding":23,"title":"SAₒᵤₜₚᵤₜ / SAᵢₙₚᵤₜ","titleFontStyle":"italic","titleFontSize":21.5,"titlePadding":7}},
   "color":{"field":"s","type":"nominal","scale":{"domain":["HVSC","RHSC","PPHS","CMHS","SMTC","PRPC"],"range":["#3b4ea3","#1b8943","#ec2227","#2ac3c3","#a9449f","#bdbd35"]},"legend":{"columns":2,"encode":{"symbols":{"update":{"fill":{"scale":"pd_color","field":"value"}}}}}}}},
  {"data":{"name":"dm"},"mark":{"type":"point","shape":"diamond","filled":true,"size":60,"stroke":"#1a1a1a","strokeWidth":1,"opacity":1},"encoding":{
   "x":{"field":"T","type":"quantitative","axis":{"orient":"top","values":[0.01,0.02,0.03,0.04,0.05,0.06,0.07,0.08,0.09,0.1,0.2,0.3,0.4,0.5,0.6,0.7,0.8,0.9,1,2,3,4,5,6,7,8,9,10],"labels":false,"title":null,"tickSize":{"condition":{"test":"datum.value==0.01||datum.value==0.1||datum.value==1||datum.value==10","value":-10},"value":-5}}},
   "y":{"field":"v","type":"quantitative","axis":{"orient":"right","values":[0.5,1,1.5,2,2.5,3,3.5],"labels":false,"title":null,"tickSize":-10}},
   "color":{"field":"s","type":"nominal","legend":null}}}
 ],
 "resolve":{"axis":{"x":"independent","y":"independent"}}}
],
"columns":2,
"spacing":{"row":111,"column":124},
"bounds":"flush",
"resolve":{"scale":{"color":"independent"},"legend":{"color":"independent"}}
}
